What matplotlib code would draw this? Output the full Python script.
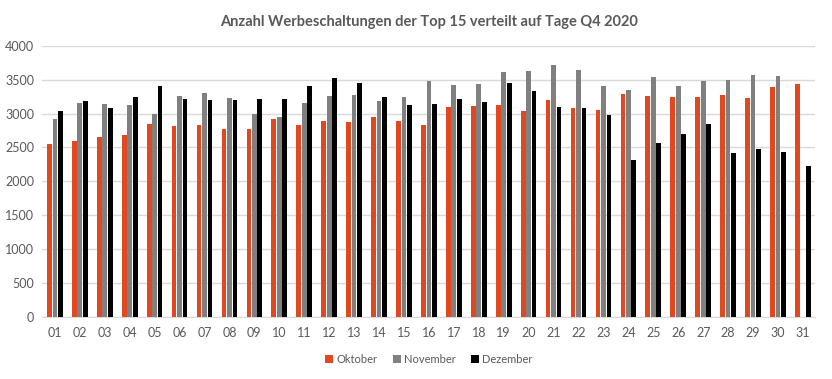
import numpy as np
import matplotlib.pyplot as plt

# Werbeschaltungen der Top 15 pro Tag, Q4 2020
days = [f"{d:02d}" for d in range(1, 32)]

oktober = [2555, 2600, 2660, 2690, 2850, 2820, 2835, 2775, 2775, 2925,
           2835, 2895, 2880, 2955, 2895, 2835, 3100, 3115, 3130, 3040,
           3205, 3085, 3055, 3290, 3265, 3250, 3250, 3275, 3235, 3395,
           3440]
november = [2925, 3160, 3145, 3130, 3000, 3265, 3305, 3235, 3000, 2955,
            3160, 3265, 3280, 3190, 3250, 3485, 3425, 3440, 3615, 3630,
            3720, 3645, 3410, 3350, 3545, 3410, 3485, 3500, 3575, 3560,
            np.nan]
dezember = [3040, 3190, 3085, 3250, 3410, 3220, 3205, 3205, 3220, 3220,
            3410, 3530, 3455, 3250, 3130, 3145, 3220, 3175, 3455, 3335,
            3100, 3085, 2980, 2315, 2570, 2700, 2850, 2420, 2480, 2435,
            2230]

ORANGE = '#E0491F'
GRAY = '#808080'
BLACK = '#000000'
TEXT = '#595959'
GRID = '#D9D9D9'

plt.rcParams['font.family'] = ['Lato', 'DejaVu Sans']

fig, ax = plt.subplots(figsize=(8.32, 3.79), dpi=100)
plt.subplots_adjust(left=0.051, right=0.98, bottom=0.164, top=0.879)

x = np.arange(len(days))
w = 0.19
step = 0.22
ax.bar(x - step, oktober, width=w, color=ORANGE, label='Oktober', zorder=3)
ax.bar(x, november, width=w, color=GRAY, label='November', zorder=3)
ax.bar(x + step, dezember, width=w, color=BLACK, label='Dezember', zorder=3)

ax.set_ylim(0, 4000)
ax.set_xlim(-0.5, len(days) - 0.5)
ax.set_yticks(range(0, 4001, 500))
ax.set_xticks(x)
ax.set_xticklabels(days)

ax.yaxis.grid(True, color=GRID, linewidth=1, zorder=0)
for side in ['top', 'right', 'left']:
    ax.spines[side].set_visible(False)
ax.spines['bottom'].set_color(GRID)
ax.tick_params(axis='both', length=0, colors=TEXT, labelsize=9)
ax.tick_params(axis='x', pad=7)
ax.tick_params(axis='y', pad=6)

ax.set_title("Anzahl Werbeschaltungen der Top 15 verteilt auf Tage Q4 2020",
             fontsize=10.5, fontweight='bold', color=TEXT, pad=14)

ax.legend(loc='upper center', bbox_to_anchor=(0.5, -0.1), ncol=3,
          frameon=False, fontsize=8, labelcolor=TEXT, handlelength=0.7,
          handleheight=0.7, handletextpad=0.3, columnspacing=1.4)

fig.savefig("out.png", dpi=100)
